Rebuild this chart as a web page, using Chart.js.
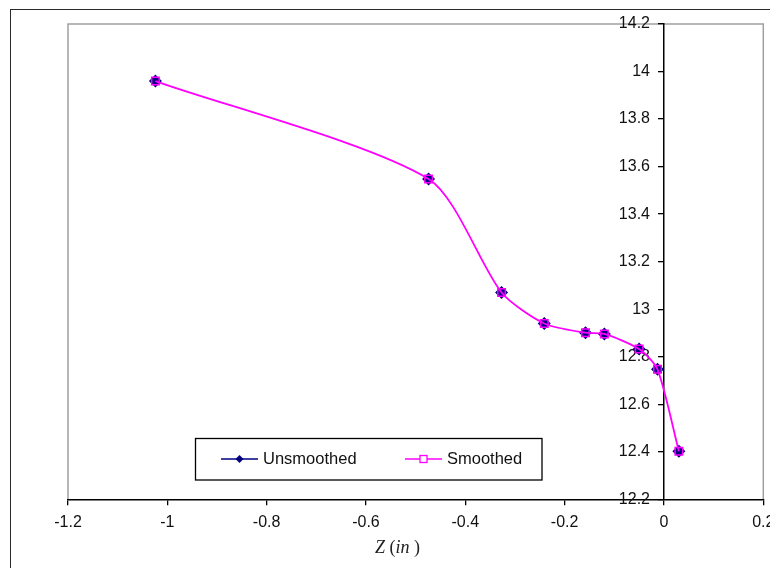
<!DOCTYPE html>
<html><head><meta charset="utf-8">
<script src="https://cdn.jsdelivr.net/npm/chart.js@4/dist/chart.umd.min.js"></script>
<style>
html,body{margin:0;padding:0;overflow:hidden;background:#fff;width:770px;height:568px}
#frame{position:absolute;left:10px;top:8.5px;width:900px;height:700px;border:1.6px solid #2a2a2a;box-sizing:border-box}
#wrap{position:absolute;left:0;top:0;width:830px;height:620px}
</style></head><body>
<div id="frame"></div>
<div id="wrap"><canvas id="c" width="830" height="620"></canvas></div>
<script>
const zValues    = [-1.024, -0.474, -0.327, -0.241, -0.158, -0.120, -0.050, -0.013, 0.030];
const unsmoothed = [13.960, 13.548, 13.070, 12.940, 12.901, 12.896, 12.832, 12.747, 12.402];
const smoothed   = [13.960, 13.548, 13.070, 12.940, 12.901, 12.896, 12.832, 12.747, 12.402];
const seriesNames = ['Unsmoothed', 'Smoothed'];
const xTickValues = [-1.2, -1, -0.8, -0.6, -0.4, -0.2, 0, 0.2];
const yTickValues = [12.2, 12.4, 12.6, 12.8, 13, 13.2, 13.4, 13.6, 13.8, 14, 14.2];
const xAxisTitleParts = [['Z', true], [' (', false], ['in', true], [' )', false]];
const yAxisCrossing = 0;

const fmt = v => String(Number(v.toFixed(1)));

const plotFrame = {
  id: 'plotFrame',
  afterLayout(chart) {
    // put the y axis at x = 0, like Excel's crossing axis
    const ys = chart.scales.y, xs = chart.scales.x;
    const px = xs.getPixelForValue(yAxisCrossing);
    ys.right = px;
    ys.left = px - 80;
    ys.width = 80;
  },
  beforeDraw(chart) {
    const {ctx, chartArea: a} = chart;
    ctx.save();
    ctx.strokeStyle = '#a0a0a0';
    ctx.lineWidth = 1.5;
    ctx.beginPath();
    ctx.moveTo(a.left, a.bottom);
    ctx.lineTo(a.left, a.top);
    ctx.lineTo(a.right, a.top);
    ctx.lineTo(a.right, a.bottom);
    ctx.stroke();
    ctx.restore();
  },
  afterDraw(chart) {
    const ctx = chart.ctx;
    ctx.save();
    ctx.fillStyle = '#222';
    ctx.textBaseline = 'middle';
    ctx.textAlign = 'left';
    const fontFor = it => (it ? 'italic ' : '') + '18px "Liberation Serif", "Times New Roman", serif';
    let total = 0;
    xAxisTitleParts.forEach(([t, it]) => { ctx.font = fontFor(it); total += ctx.measureText(t).width; });
    let x = 397.5 - total / 2;
    const y = 548;
    xAxisTitleParts.forEach(([t, it]) => { ctx.font = fontFor(it); ctx.fillText(t, x, y); x += ctx.measureText(t).width; });
    ctx.restore();
  }
};

const xlLegend = {
  id: 'xlLegend',
  afterDraw(chart) {
    const ctx = chart.ctx;
    ctx.save();
    const L = 195.5, T = 438.5, W = 346.5, H = 41.5;
    ctx.fillStyle = '#fff';
    ctx.fillRect(L, T, W, H);
    ctx.strokeStyle = '#000';
    ctx.lineWidth = 1.3;
    ctx.strokeRect(L, T, W, H);
    const slots = [{x0: 221, x1: 258, tx: 263}, {x0: 405, x1: 442, tx: 447}];
    const y = 459;
    chart.data.datasets.forEach((ds, i) => {
      const s = slots[i];
      ctx.strokeStyle = ds.legendLine;
      ctx.lineWidth = 1.5;
      ctx.beginPath(); ctx.moveTo(s.x0, y); ctx.lineTo(s.x1, y); ctx.stroke();
      const cx = (s.x0 + s.x1) / 2;
      if (i === 0) {
        ctx.fillStyle = ds.borderColor;
        ctx.beginPath();
        ctx.moveTo(cx - 4, y); ctx.lineTo(cx, y - 4); ctx.lineTo(cx + 4, y); ctx.lineTo(cx, y + 4);
        ctx.closePath(); ctx.fill();
      } else {
        ctx.fillStyle = '#fff';
        ctx.fillRect(cx - 3.5, y - 3.5, 7, 7);
        ctx.strokeStyle = ds.borderColor;
        ctx.lineWidth = 1.3;
        ctx.strokeRect(cx - 3.5, y - 3.5, 7, 7);
      }
      ctx.fillStyle = '#111';
      ctx.font = '16.5px "Liberation Sans", Arial, sans-serif';
      ctx.textBaseline = 'middle';
      ctx.textAlign = 'left';
      ctx.fillText(ds.label, s.tx, y + 0.5);
    });
    ctx.restore();
  }
};

new Chart(document.getElementById('c'), {
  type: 'scatter',
  data: {
    datasets: [
      {
        label: seriesNames[0],
        data: zValues.map((x, i) => ({x, y: unsmoothed[i]})),
        borderColor: '#000080',
        backgroundColor: '#000080',
        legendLine: '#000080',
        pointStyle: 'rectRot',
        pointRadius: 6.5,
        pointBorderWidth: 0,
        showLine: false,
        order: 1
      },
      {
        label: seriesNames[1],
        data: zValues.map((x, i) => ({x, y: smoothed[i]})),
        borderColor: '#ff00ff',
        backgroundColor: 'rgba(0,0,0,0)',
        legendLine: '#ff00ff',
        borderWidth: 1.8,
        pointStyle: 'rect',
        pointRadius: 5.3,
        pointBorderWidth: 1.5,
        pointBorderColor: '#ff00ff',
        pointBackgroundColor: 'rgba(0,0,0,0)',
        showLine: true,
        tension: 0.25,
        order: 0
      }
    ]
  },
  options: {
    responsive: false,
    devicePixelRatio: 1,
    animation: false,
    layout: {padding: {left: 68, top: 24, right: 66.7, bottom: 60.7}},
    plugins: {legend: {display: false}, tooltip: {enabled: false}},
    scales: {
      x: {
        type: 'linear',
        position: 'bottom',
        min: -1.2, max: 0.2,
        afterBuildTicks: s => { s.ticks = xTickValues.map(v => ({value: v})); },
        afterFit: s => { s.height = 60; },
        grid: {drawOnChartArea: false, drawTicks: true, tickLength: 6, color: '#000', lineWidth: 1.3},
        border: {display: true, color: '#000', width: 1.5},
        ticks: {color: '#111', padding: 8, maxRotation: 0, font: {family: '"Liberation Sans", Arial', size: 16}, callback: v => fmt(v)},
        title: {display: false}
      },
      y: {
        type: 'linear',
        position: 'left',
        min: 12.2, max: 14.2,
        afterBuildTicks: s => { s.ticks = yTickValues.map(v => ({value: v})); },
        afterFit: s => { s.width = 0; },
        grid: {drawOnChartArea: false, drawTicks: true, tickLength: 6, color: '#000', lineWidth: 1.3},
        border: {display: true, color: '#000', width: 1.5},
        ticks: {color: '#111', padding: 8, font: {family: '"Liberation Sans", Arial', size: 16}, callback: v => fmt(v)}
      }
    }
  },
  plugins: [plotFrame, xlLegend]
});
</script>
</body></html>
